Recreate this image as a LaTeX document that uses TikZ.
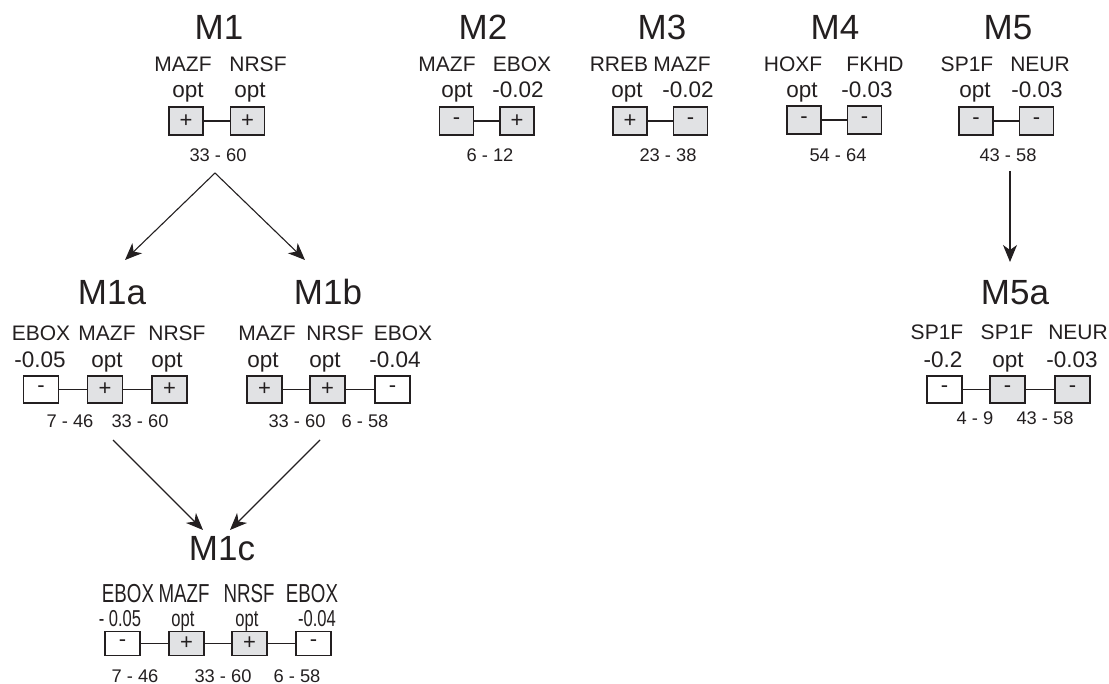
\documentclass[tikz,border=0pt]{standalone}
\usepackage{fontspec}
\setmainfont{Liberation Sans}
\newfontfamily\narrowsf[FakeStretch=0.72]{Liberation Sans}
\usetikzlibrary{arrows.meta}
\definecolor{inkblack}{RGB}{35,31,32}
\definecolor{boxgray}{RGB}{225,226,228}

\begin{document}
\begin{tikzpicture}[x=1pt, y=-1pt, inkblack,
    title/.style={anchor=base, inner sep=0pt, font=\fontsize{35}{35}\selectfont},
    gene/.style={anchor=base, inner sep=0pt, font=\fontsize{21}{21}\selectfont},
    score/.style={anchor=base, inner sep=0pt, font=\fontsize{22.5}{22.5}\selectfont},
    span/.style={anchor=base, inner sep=0pt, font=\fontsize{18.3}{18.3}\selectfont},
    ngene/.style={anchor=base, inner sep=0pt, font=\narrowsf\fontsize{26}{26}\selectfont},
    nscore/.style={anchor=base, inner sep=0pt, font=\narrowsf\fontsize{23}{23}\selectfont},
    site/.style={draw, line width=1.3pt, inner sep=0pt, minimum width=34pt, minimum height=28pt, font=\fontsize{22}{22}\selectfont},
    opt/.style={site, fill=boxgray},
    low/.style={site, fill=white},
    link/.style={line width=1.1pt},
    arr/.style={line width=1.1pt, -{Stealth[length=17pt, width=14pt, inset=5pt]}}]
    \useasboundingbox (0,0) rectangle (1109,684);

    % M1
    \node[title] (m1) at (219,40) {M1};
    \node[gene] (m1g1) at (183,71.5) {MAZF};
    \node[gene] (m1g2) at (258,71.5) {NRSF};
    \node[score] (m1s1) at (188,98) {opt};
    \node[score] (m1s2) at (250,98) {opt};
    \node[opt] (m1b1) at (186,121) {+};
    \node[opt] (m1b2) at (247.5,121) {+};
    \draw[link] (m1b1) -- (m1b2);
    \node[span] (m1r1) at (218,162) {33 - 60};

    % M2
    \node[title] (m2) at (483,40) {M2};
    \node[gene] (m2g1) at (447,71.5) {MAZF};
    \node[gene] (m2g2) at (522,71.5) {EBOX};
    \node[score] (m2s1) at (457,98) {opt};
    \node[score] (m2s2) at (518,98) {-0.02};
    \node[opt] (m2b1) at (456.5,121) {-};
    \node[opt] (m2b2) at (517,121) {+};
    \draw[link] (m2b1) -- (m2b2);
    \node[span] (m2r1) at (490,162) {6 - 12};

    % M3
    \node[title] (m3) at (662,40) {M3};
    \node[gene] (m3g1) at (619,71.5) {RREB};
    \node[gene] (m3g2) at (682,71.5) {MAZF};
    \node[score] (m3s1) at (627,98) {opt};
    \node[score] (m3s2) at (688,98) {-0.02};
    \node[opt] (m3b1) at (630,121) {+};
    \node[opt] (m3b2) at (690.5,121) {-};
    \draw[link] (m3b1) -- (m3b2);
    \node[span] (m3r1) at (668,162) {23 - 38};

    % M4
    \node[title] (m4) at (835,40) {M4};
    \node[gene] (m4g1) at (793,71.5) {HOXF};
    \node[gene] (m4g2) at (875,71.5) {FKHD};
    \node[score] (m4s1) at (802,98) {opt};
    \node[score] (m4s2) at (867,98) {-0.03};
    \node[opt] (m4b1) at (804,120) {-};
    \node[opt] (m4b2) at (864.5,120) {-};
    \draw[link] (m4b1) -- (m4b2);
    \node[span] (m4r1) at (838,162) {54 - 64};

    % M5
    \node[title] (m5) at (1008,40) {M5};
    \node[gene] (m5g1) at (967,71.5) {SP1F};
    \node[gene] (m5g2) at (1040,71.5) {NEUR};
    \node[score] (m5s1) at (975,98) {opt};
    \node[score] (m5s2) at (1037,98) {-0.03};
    \node[opt] (m5b1) at (976,121) {-};
    \node[opt] (m5b2) at (1036.5,121) {-};
    \draw[link] (m5b1) -- (m5b2);
    \node[span] (m5r1) at (1008,162) {43 - 58};

    % M1a
    \node[title] (m1a) at (112,305) {M1a};
    \node[gene] (m1ag1) at (41,341) {EBOX};
    \node[gene] (m1ag2) at (107,341) {MAZF};
    \node[gene] (m1ag3) at (177,341) {NRSF};
    \node[score] (m1as1) at (40,368) {-0.05};
    \node[score] (m1as2) at (107,368) {opt};
    \node[score] (m1as3) at (167,368) {opt};
    \node[low, minimum width=35pt, minimum height=27pt] (m1ab1) at (41,389.5) {-};
    \node[opt, minimum width=35pt, minimum height=27pt] (m1ab2) at (105,389.5) {+};
    \node[opt, minimum width=35pt, minimum height=27pt] (m1ab3) at (169.5,389.5) {+};
    \draw[link] (m1ab1) -- (m1ab2) -- (m1ab3);
    \node[span] (m1ar1) at (70,428) {7 - 46};
    \node[span] (m1ar2) at (140,428) {33 - 60};

    % M1b
    \node[title] (m1b) at (328,305) {M1b};
    \node[gene] (m1bg1) at (267,341) {MAZF};
    \node[gene] (m1bg2) at (335,341) {NRSF};
    \node[gene] (m1bg3) at (403,341) {EBOX};
    \node[score] (m1bs1) at (263,368) {opt};
    \node[score] (m1bs2) at (325,368) {opt};
    \node[score] (m1bs3) at (395,368) {-0.04};
    \node[opt, minimum width=35pt, minimum height=27pt] (m1bb1) at (264.5,389.5) {+};
    \node[opt, minimum width=35pt, minimum height=27pt] (m1bb2) at (327.5,389.5) {+};
    \node[low, minimum width=35pt, minimum height=27pt] (m1bb3) at (392.5,389.5) {-};
    \draw[link] (m1bb1) -- (m1bb2) -- (m1bb3);
    \node[span] (m1br1) at (297,428) {33 - 60};
    \node[span] (m1br2) at (365,428) {6 - 58};

    % M1c
    \node[title] (m1c) at (222,560) {M1c};
    \node[ngene] (m1cg1) at (128,602) {EBOX};
    \node[ngene] (m1cg2) at (184,602) {MAZF};
    \node[ngene] (m1cg3) at (249,602) {NRSF};
    \node[ngene] (m1cg4) at (312,602) {EBOX};
    \node[nscore] (m1cs1) at (120,626) {- 0.05};
    \node[nscore] (m1cs2) at (183,626) {opt};
    \node[nscore] (m1cs3) at (247,626) {opt};
    \node[nscore] (m1cs4) at (317,626) {-0.04};
    \node[low, minimum width=35pt, minimum height=24pt] (m1cb1) at (122.5,643.5) {-};
    \node[opt, minimum width=35pt, minimum height=24pt] (m1cb2) at (186.5,643.5) {+};
    \node[opt, minimum width=35pt, minimum height=24pt] (m1cb3) at (249.5,643.5) {+};
    \node[low, minimum width=35pt, minimum height=24pt] (m1cb4) at (313.5,643.5) {-};
    \draw[link] (m1cb1) -- (m1cb2) -- (m1cb3) -- (m1cb4);
    \node[span] (m1cr1) at (135,682) {7 - 46};
    \node[span] (m1cr2) at (223,682) {33 - 60};
    \node[span] (m1cr3) at (297,682) {6 - 58};

    % M5a
    \node[title] (m5a) at (1015,305) {M5a};
    \node[gene] (m5ag1) at (937,340) {SP1F};
    \node[gene] (m5ag2) at (1007,340) {SP1F};
    \node[gene] (m5ag3) at (1078,340) {NEUR};
    \node[score] (m5as1) at (943,368) {-0.2};
    \node[score] (m5as2) at (1008,368) {opt};
    \node[score] (m5as3) at (1072,368) {-0.03};
    \node[low, minimum width=35pt, minimum height=27pt] (m5ab1) at (944.5,389.5) {-};
    \node[opt, minimum width=35pt, minimum height=27pt] (m5ab2) at (1007.5,389.5) {-};
    \node[opt, minimum width=35pt, minimum height=27pt] (m5ab3) at (1072.5,389.5) {-};
    \draw[link] (m5ab1) -- (m5ab2) -- (m5ab3);
    \node[span] (m5ar1) at (975,425) {4 - 9};
    \node[span] (m5ar2) at (1045,425) {43 - 58};

    % Arrows
    \coordinate (m1split) at (215,173);
    \coordinate (m1aend) at (125,260);
    \coordinate (m1bend) at (305,260);
    \draw[arr] (m1split) -- (m1aend);
    \draw[arr] (m1split) -- (m1bend);
    \coordinate (m1afrom) at (113,440);
    \coordinate (m1bfrom) at (320,440);
    \coordinate (m1cleft) at (203,530);
    \coordinate (m1cright) at (230,530);
    \draw[arr] (m1afrom) -- (m1cleft);
    \draw[arr] (m1bfrom) -- (m1cright);
    \coordinate (m5from) at (1010,171);
    \coordinate (m5aend) at (1010,262);
    \draw[arr] (m5from) -- (m5aend);
\end{tikzpicture}
\end{document}
